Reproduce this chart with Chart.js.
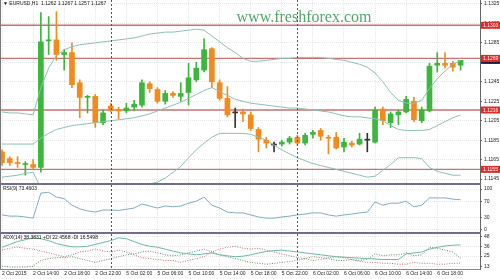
<!DOCTYPE html>
<html>
<head>
<meta charset="utf-8">
<script src="https://cdn.jsdelivr.net/npm/chart.js@4.4.0/dist/chart.umd.min.js"></script>
<style>
html,body{margin:0;padding:0;background:#fff;}
#wrap{position:relative;width:500px;height:279px;overflow:hidden;background:#fff;}
canvas{position:absolute;left:0;}
</style>
</head>
<body>
<div id="wrap">
  <canvas id="main" width="500" height="183" style="top:0px"></canvas>
  <canvas id="rsi" width="500" height="49" style="top:183px"></canvas>
  <canvas id="adx" width="500" height="48" style="top:231px"></canvas>
</div>
<script>
// EURUSD H1, 2 Oct 10:00 .. 6 Oct 21:00
const opens =[1.1173,1.1166,1.1162,1.1160,1.1160,1.1157,1.1287,1.1288,1.1273,1.1275,1.1244,1.1229,1.1230,1.1203,1.1220,1.1216,1.1215,1.1219,1.1221,1.1243,
              1.1237,1.1225,1.1233,1.1230,1.1234,1.1247,1.1257,1.1279,1.1244,1.1228,1.1213,1.1214,1.1211,1.1196,1.1185,1.1180,1.1181,1.1183,1.1188,1.1182,
              1.1191,1.1195,1.1188,1.1188,1.1178,1.1182,1.1181,1.1185,1.1183,1.1217,1.1203,1.1211,1.1214,1.1225,1.1205,1.1215,1.1262,1.1264,1.1264,1.1262];
const highs =[1.1175,1.1168,1.1168,1.1163,1.1165,1.1316,1.1312,1.1317,1.1278,1.1285,1.1247,1.1231,1.1232,1.1216,1.1223,1.1219,1.1223,1.1226,1.1247,1.1245,
              1.1239,1.1236,1.1235,1.1244,1.1264,1.1265,1.1289,1.1280,1.1247,1.1240,1.1218,1.1217,1.1214,1.1198,1.1188,1.1183,1.1185,1.1189,1.1190,1.1192,
              1.1195,1.1197,1.1190,1.1193,1.1187,1.1184,1.1192,1.1192,1.1219,1.1219,1.1214,1.1216,1.1230,1.1229,1.1219,1.1264,1.1275,1.1275,1.1266,1.1267];
const lows  =[1.1159,1.1159,1.1157,1.1149,1.1156,1.1152,1.1273,1.1267,1.1257,1.1239,1.1208,1.1213,1.1198,1.1201,1.1214,1.1207,1.1213,1.1215,1.1219,1.1234,
              1.1223,1.1222,1.1229,1.1225,1.1221,1.1245,1.1255,1.1239,1.1226,1.1209,1.1198,1.1204,1.1195,1.1173,1.1177,1.1173,1.1179,1.1181,1.1180,1.1180,
              1.1187,1.1185,1.1171,1.1176,1.1173,1.1178,1.1180,1.1173,1.1182,1.1201,1.1198,1.1201,1.1213,1.1204,1.1203,1.1214,1.1255,1.1259,1.1256,1.1257];
const closes=[1.1162,1.1162,1.1161,1.1161,1.1157,1.1286,1.1288,1.1273,1.1275,1.1242,1.1229,1.1230,1.1203,1.1213,1.1216,1.1215,1.1218,1.1222,1.1244,1.1238,
              1.1225,1.1233,1.1231,1.1233,1.1249,1.1259,1.1278,1.1245,1.1228,1.1211,1.1213,1.1212,1.1197,1.1186,1.1182,1.1180,1.1183,1.1187,1.1182,1.1190,
              1.1193,1.1189,1.1187,1.1177,1.1183,1.1180,1.1186,1.1185,1.1216,1.1205,1.1212,1.1214,1.1227,1.1206,1.1216,1.1261,1.1264,1.1262,1.1260,1.1267];

// Bollinger bands
const bbUpper=[1.1214,1.1213,1.1213,1.1212,1.1211,1.1239,1.1259,1.1272,1.1278,1.1281,1.1283,1.1284,1.1285,1.1286,1.1287,1.1288,1.1289,1.1290,1.1292,1.1294,
               1.1295,1.1296,1.1296,1.1297,1.1298,1.1299,1.1298,1.1292,1.1286,1.1280,1.1275,1.1269,1.1266,1.1266,1.1267,1.1268,1.1269,1.1269,1.1270,1.1270,
               1.1270,1.1270,1.1269,1.1268,1.1267,1.1265,1.1263,1.1260,1.1254,1.1245,1.1234,1.1226,1.1223,1.1223,1.1226,1.1238,1.1248,1.1256,1.1263,1.1267];
const bbMiddle=[1.1181,1.1181,1.1181,1.1181,1.1181,1.1187,1.1192,1.1196,1.1198,1.1200,1.1201,1.1202,1.1203,1.1204,1.1205,1.1206,1.1207,1.1208,1.1210,1.1212,
                1.1215,1.1218,1.1221,1.1224,1.1228,1.1232,1.1236,1.1239,1.1235,1.1231,1.1227,1.1225,1.1223,1.1222,1.1221,1.1220,1.1219,1.1218,1.1218,1.1217,
                1.1216,1.1215,1.1214,1.1212,1.1210,1.1209,1.1209,1.1208,1.1207,1.1205,1.1200,1.1196,1.1195,1.1195,1.1195,1.1196,1.1200,1.1204,1.1208,1.1211];
const bbLower=[1.1147,1.1148,1.1149,1.1151,1.1152,1.1136,1.1126,1.1120,1.1118,1.1118,1.1119,1.1120,1.1121,1.1123,1.1124,1.1126,1.1128,1.1131,1.1133,1.1140,
               1.1142,1.1146,1.1152,1.1158,1.1167,1.1175,1.1182,1.1188,1.1192,1.1192,1.1192,1.1192,1.1191,1.1188,1.1185,1.1180,1.1175,1.1171,1.1167,1.1164,
               1.1161,1.1159,1.1157,1.1155,1.1153,1.1151,1.1149,1.1147,1.1148,1.1154,1.1160,1.1167,1.1167,1.1167,1.1166,1.1157,1.1153,1.1151,1.1149,1.1149];

// RSI(9)
const rsi=[36,33,33,31,28,90,92,80,76,60,51,46,43,48,48,47,50,53,63,58,
           53,58,56,58,65,70,80,60,53,43,41,41,36,31,28,28,31,33,36,38,
           41,41,36,33,36,38,41,43,68,60,65,65,70,56,60,78,78,78,75,73.46];

// ADX(14), +DI, -DI
const adx=[35.6,39.0,42.3,44.6,46.9,45.7,43.5,40.0,37.8,36.1,36.1,36.7,39.0,41.2,43.5,46.9,45.7,42.3,39.0,36.7,
           35.6,33.3,31.0,28.8,27.7,26.5,27.7,28.8,26.5,25.4,24.3,24.9,26.5,28.8,30.5,31.6,32.2,31.0,29.9,28.8,
           27.7,26.5,25.4,24.3,23.7,23.2,22.6,22.0,21.5,20.9,20.9,20.9,27.7,28.8,29.9,33.3,35.5,37.0,38.0,38.38];
const plusDi=[13.0,11.9,11.9,11.9,13.0,19.8,22.0,23.2,23.2,24.3,22.0,19.8,17.5,19.8,22.0,24.3,26.5,27.7,29.9,31.1,
              28.8,26.5,25.4,26.5,28.8,31.1,33.3,29.9,26.5,24.3,22.0,19.8,17.5,16.4,15.3,16.4,17.5,18.6,19.8,22.0,
              24.3,23.2,22.0,19.8,19.8,20.9,19.8,20.9,27.7,25.4,26.5,26.5,28.8,25.4,26.5,35.6,34.4,32.2,29.9,22.46];
const minusDi=[32.2,34.4,35.6,34.4,33.3,31.1,28.8,26.5,24.3,26.5,29.9,31.1,33.3,31.1,29.9,32.2,29.9,26.5,23.2,22.0,
               20.9,19.8,19.8,17.5,19.8,22.0,24.3,29.9,33.3,35.6,36.7,34.4,33.3,34.4,32.2,29.9,27.7,25.4,23.2,22.0,
               19.8,20.9,23.2,24.3,23.2,20.9,18.6,17.5,17.5,16.4,16.4,15.3,15.3,17.5,16.4,16.4,15.3,15.3,16.4,16.55];

const priceTicks=[1.1145,1.1165,1.1185,1.1205,1.1225,1.1245,1.1265,1.1285,1.1305,1.1325];
const rsiTicks=[0,30,70,100];
const adxTicks=[13,25,36,48];
const timeLabels=['2 Oct 2015','2 Oct 14:00','2 Oct 18:00','2 Oct 22:00','5 Oct 02:00','5 Oct 06:00','5 Oct 10:00','5 Oct 14:00',
                  '5 Oct 18:00','5 Oct 22:00','6 Oct 02:00','6 Oct 06:00','6 Oct 10:00','6 Oct 14:00','6 Oct 18:00'];
const labelBars=[0,4,8,12,16,20,24,28,32,36,40,44,48,52,56];
const periodBars=[14,38];
const levels=[1.1303,1.1269,1.1216,1.1155];
const bidPrice=1.1267;

const FONT='"Liberation Sans", Arial, sans-serif';
const UP='#3cb63c', DOWN='#f28a1c', DOJI='#333333';
const BAND='#8dbfb4', GRID='#e6e6e6';
const xMin=-0.26, xMax=61.5;

const idx=opens.map((_,i)=>i);
const candleColor=i=>closes[i]>opens[i]?UP:(closes[i]<opens[i]?DOWN:DOJI);

const decor={
  id:'decor',
  beforeDatasetsDraw(chart,args,o){
    const {ctx,chartArea:a,scales}=chart;
    ctx.save();
    if(o.watermark){
      ctx.font='16px "Liberation Serif", "DejaVu Serif", serif';
      ctx.fillStyle='rgba(50,150,80,0.85)';
      ctx.textAlign='center'; ctx.textBaseline='alphabetic';
      ctx.fillText('www.freshforex.com',304,22);
    }
    if(o.levels){
      ctx.strokeStyle='#c97272'; ctx.lineWidth=1.4;
      levels.forEach(p=>{
        const y=scales.y.getPixelForValue(p);
        ctx.beginPath(); ctx.moveTo(a.left,y); ctx.lineTo(a.right,y); ctx.stroke();
      });
    }
    ctx.restore();
  },
  afterDraw(chart,args,o){
    const {ctx,chartArea:a,scales}=chart;
    ctx.save();
    // day separators
    ctx.strokeStyle='#555'; ctx.lineWidth=1; ctx.setLineDash([2,2]);
    periodBars.forEach(b=>{
      const x=Math.round(scales.x.getPixelForValue(b))+0.5;
      ctx.beginPath(); ctx.moveTo(x,a.top); ctx.lineTo(x,a.bottom); ctx.stroke();
    });
    ctx.setLineDash([]);
    // left frame
    ctx.strokeStyle='#777';
    ctx.beginPath(); ctx.moveTo(0.5,a.top); ctx.lineTo(0.5,a.bottom); ctx.stroke();
    if(o.topBar){
      ctx.fillStyle='#6e6e8e';
      ctx.fillRect(0,a.top-2,a.right+1,2);
    }
    ctx.font='5px '+FONT; ctx.fillStyle='#111'; ctx.textBaseline='middle'; ctx.textAlign='left';
    if(o.title) ctx.fillText(o.title,3,a.top+(o.titleOffset||4));
    if(o.levels){
      const lab=(p,bg)=>{
        const y=scales.y.getPixelForValue(p);
        ctx.fillStyle=bg; ctx.fillRect(a.right+1,y-3.5,19,7);
        ctx.fillStyle='#fff'; ctx.fillText(p.toFixed(4),a.right+3,y+0.5);
      };
      lab(bidPrice,'#1c1c3c');
      levels.forEach(p=>lab(p,'#dd2a2a'));
    }
    ctx.restore();
  }
};

function options(yMin,yMax,yTicks,fmt,showX,pad,deco){
  return {
    responsive:false, animation:false, events:[],
    layout:{padding:pad},
    plugins:{legend:{display:false},tooltip:{enabled:false},decor:deco},
    scales:{
      x:{type:'linear',min:xMin,max:xMax,offset:false,
        afterBuildTicks:s=>{s.ticks=labelBars.map(v=>({value:v}));},
        afterFit:s=>{s.paddingLeft=0;s.paddingRight=0;},
        ticks:{display:showX,autoSkip:false,maxRotation:0,align:'start',padding:2,
          font:{size:5,family:FONT},color:'#222',
          callback:v=>timeLabels[labelBars.indexOf(v)]},
        grid:{color:GRID,drawTicks:false,offset:false},
        border:{display:showX,color:'#888',dash:[1,1]}},
      y:{position:'right',min:yMin,max:yMax,
        afterBuildTicks:s=>{s.ticks=yTicks.map(v=>({value:v}));},
        afterFit:s=>{s.width=20;s.paddingTop=0;s.paddingBottom=0;},
        ticks:{font:{size:5,family:FONT},color:'#222',padding:2,callback:fmt},
        grid:{color:GRID,tickLength:2,tickColor:'#666'},
        border:{color:'#666',dash:[1,1]}}
    }
  };
}

const line=(data,color,dash)=>({type:'line',data:idx.map(i=>({x:i,y:data[i]})),borderColor:color,borderWidth:1,
  borderDash:dash||[],pointRadius:0,tension:0,order:0});

new Chart(document.getElementById('main'),{
  type:'bar',
  data:{datasets:[
    line(bbUpper,BAND), line(bbMiddle,BAND), line(bbLower,BAND),
    {data:idx.map(i=>({x:i,y:[opens[i],closes[i]]})),backgroundColor:idx.map(candleColor),
      barThickness:5,minBarLength:1,grouped:false,order:1},
    {data:idx.map(i=>({x:i,y:[lows[i],highs[i]]})),backgroundColor:idx.map(candleColor),
      barThickness:1,grouped:false,order:2}
  ]},
  options:options(1.1141,1.1329,priceTicks,v=>v.toFixed(4),false,{top:0,bottom:0,left:0,right:0},
    {watermark:true,levels:true,title:'\u25BC EURUSD,H1  1.1262 1.1267 1.1257 1.1267',titleOffset:4}),
  plugins:[decor]
});

new Chart(document.getElementById('rsi'),{
  type:'line',
  data:{datasets:[line(rsi,'#7eaebe')]},
  options:options(-6.2,109.9,rsiTicks,v=>String(v),false,{top:2,bottom:0,left:0,right:0},
    {topBar:true,title:'RSI(9) 73.4603',titleOffset:4}),
  plugins:[decor]
});

new Chart(document.getElementById('adx'),{
  type:'line',
  data:{datasets:[line(adx,'#6cb8a8'),line(plusDi,'#5c8a5c',[1,1.5]),line(minusDi,'#c26a6a',[1,1.5])]},
  options:options(9.6,51.4,adxTicks,v=>String(v),true,{top:3,bottom:0,left:0,right:0},
    {topBar:true,title:'ADX(14) 38.3831 +DI 22.4568 -DI 16.5498',titleOffset:4}),
  plugins:[decor]
});
</script>
</body>
</html>
